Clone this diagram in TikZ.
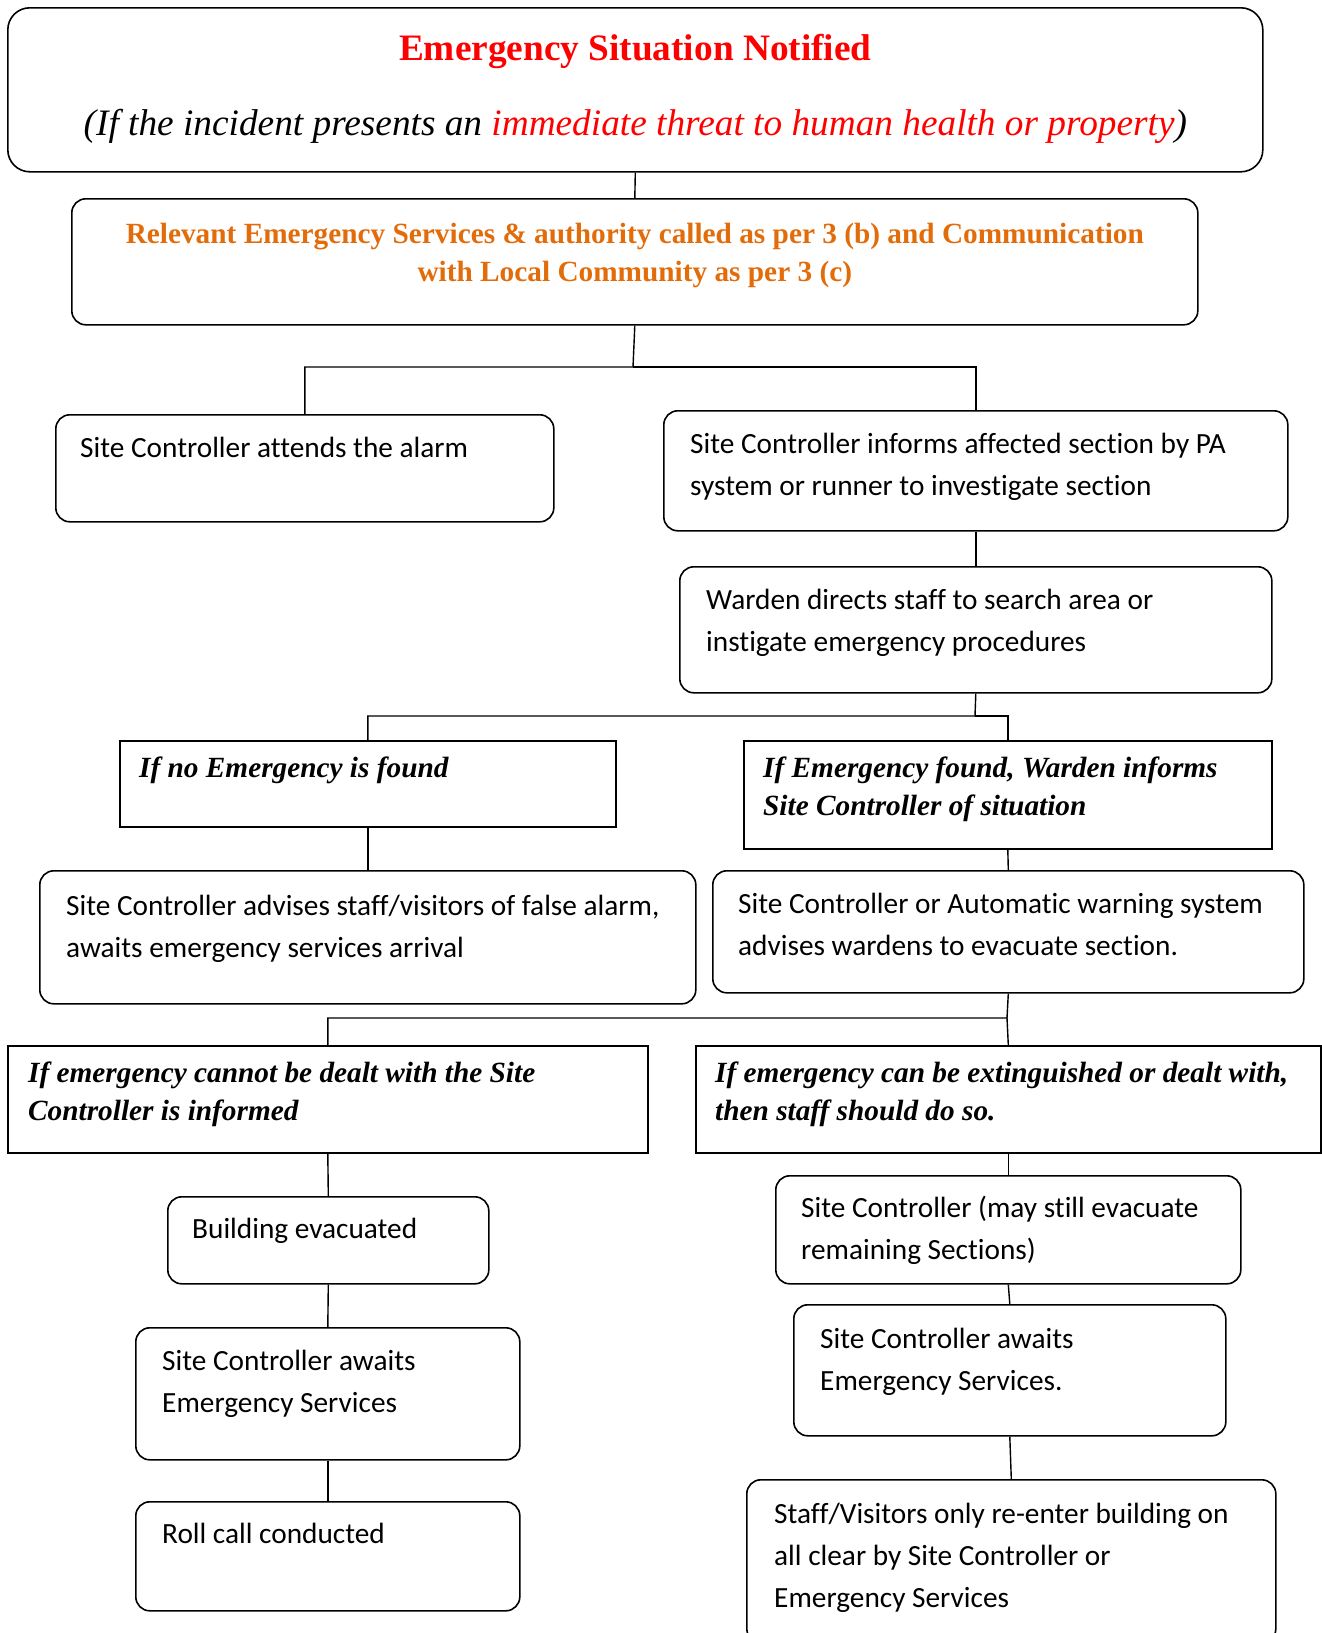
\documentclass[tikz,border=0pt]{standalone}
\usepackage{fontspec}
\setmainfont{Liberation Serif}
\newfontfamily\carlito[Ligatures=NoCommon]{Carlito}
\definecolor{alertred}{RGB}{255,0,0}
\definecolor{callorange}{RGB}{227,108,10}

\tikzset{
  stepbox/.style={draw, line width=1.6pt, rounded corners=14pt, anchor=north west, inner sep=0pt},
  casebox/.style={draw, line width=1.6pt, anchor=north west, inner sep=0pt},
  boxtext/.style={anchor=base west, inner sep=0pt, execute at begin node={\spaceskip=0pt\xspaceskip=0pt}},
  steptext/.style={boxtext, text width=620pt, font=\carlito\fontsize{29.3}{42}\selectfont},
  casetext/.style={boxtext, text width=600pt, font=\fontsize{29.3}{38.5}\selectfont\bfseries\itshape},
  link/.style={line width=1.4pt}
}

\begin{document}
\begin{tikzpicture}[x=1pt, y=-1pt]
    \useasboundingbox (0,0) rectangle (1322,1633);

    % Boxes
    \node[stepbox, rounded corners=22pt, minimum width=1255, minimum height=164] (notified) at (7,7) {};
    \node[stepbox, minimum width=1126, minimum height=126] (called) at (71,198) {};
    \node[stepbox, minimum width=498, minimum height=107] (attends) at (55,414) {};
    \node[stepbox, minimum width=624, minimum height=120] (informs) at (663,410) {};
    \node[stepbox, minimum width=592, minimum height=126] (directs) at (679,566) {};
    \node[casebox, minimum width=496, minimum height=86] (nofound) at (119,740) {};
    \node[casebox, minimum width=528, minimum height=108] (found) at (743,740) {};
    \node[stepbox, minimum width=656, minimum height=133] (falsealarm) at (39,870) {};
    \node[stepbox, minimum width=591, minimum height=122] (evacsection) at (712,870) {};
    \node[casebox, minimum width=640, minimum height=107] (cannot) at (7,1045) {};
    \node[casebox, minimum width=625, minimum height=107] (canext) at (695,1045) {};
    \node[stepbox, minimum width=321, minimum height=87] (building) at (167,1196) {};
    \node[stepbox, minimum width=384, minimum height=132] (awaitsL) at (135,1327) {};
    \node[stepbox, minimum width=384, minimum height=109] (rollcall) at (135,1501) {};
    \node[stepbox, minimum width=465, minimum height=108] (mayevac) at (775,1175) {};
    \node[stepbox, minimum width=432, minimum height=131] (awaitsR) at (793,1304) {};
    \node[stepbox, minimum width=529, minimum height=163] (reenter) at (746,1479) {};

    % Texts
    \node[font=\fontsize{37.3}{44}\selectfont\bfseries, text=alertred, anchor=base] (notified-t1) at ([shift={(0,53)}]notified.north) {Emergency Situation Notified};
    \node[font=\fontsize{37.3}{44}\selectfont\itshape, anchor=base] (notified-t2) at ([shift={(0,128)}]notified.north) {(If the incident presents an \textcolor{alertred}{immediate threat to human health or property})};
    \node[font=\fontsize{29.3}{38}\selectfont\bfseries, text=callorange, align=center, anchor=base] (called-t) at ([shift={(0,83)}]called.north) {Relevant Emergency Services \& authority called as per 3 (b) and Communication\\with Local Community as per 3 (c)};
    \node[steptext] (attends-t) at ([shift={(25,43)}]attends.north west) {Site Controller attends the alarm};
    \node[steptext] (informs-t) at ([shift={(27,43)}]informs.north west) {Site Controller informs affected section by PA\\system or runner to investigate section};
    \node[steptext] (directs-t) at ([shift={(27,43)}]directs.north west) {Warden directs staff to search area or\\instigate emergency procedures};
    \node[casetext] (nofound-t) at ([shift={(20,37)}]nofound.north west) {If no Emergency is found};
    \node[casetext] (found-t) at ([shift={(20,37)}]found.north west) {If Emergency found, Warden informs\\Site Controller of situation};
    \node[steptext] (falsealarm-t) at ([shift={(27,45)}]falsealarm.north west) {Site Controller advises staff/visitors of false alarm,\\awaits emergency services arrival};
    \node[steptext] (evacsection-t) at ([shift={(26,43)}]evacsection.north west) {Site Controller or Automatic warning system\\advises wardens to evacuate section.};
    \node[casetext] (cannot-t) at ([shift={(21,37)}]cannot.north west) {If emergency cannot be dealt with the Site\\Controller is informed};
    \node[casetext] (canext-t) at ([shift={(20,37)}]canext.north west) {If emergency can be extinguished or dealt with,\\then staff should do so.};
    \node[steptext] (building-t) at ([shift={(25,42)}]building.north west) {Building evacuated};
    \node[steptext] (awaitsL-t) at ([shift={(27,43)}]awaitsL.north west) {Site Controller awaits\\Emergency Services};
    \node[steptext] (rollcall-t) at ([shift={(27,42)}]rollcall.north west) {Roll call conducted};
    \node[steptext] (mayevac-t) at ([shift={(26,42)}]mayevac.north west) {Site Controller (may still evacuate\\remaining Sections)};
    \node[steptext] (awaitsR-t) at ([shift={(27,44)}]awaitsR.north west) {Site Controller awaits\\Emergency Services.};
    \node[steptext] (reenter-t) at ([shift={(28,44)}]reenter.north west) {Staff/Visitors only re-enter building on\\all clear by Site Controller or\\Emergency Services};

    % Connections
    \coordinate (split1) at (633,367);
    \coordinate (split2) at (975,716);
    \coordinate (split3) at (1007,1018);
    \draw[link] (notified.south) -- (called.north);
    \draw[link] (called.south) -- (split1) -| (attends.north);
    \draw[link] (split1) -| (informs.north);
    \draw[link] (informs.south) -- (directs.north);
    \draw[link] (directs.south) -- (split2) -| (nofound.north);
    \draw[link] (split2) -| (found.north);
    \draw[link] (nofound.south) -- (falsealarm.north);
    \draw[link] (found.south) -- (evacsection.north);
    \draw[link] (evacsection.south) -- (split3) -| (cannot.north);
    \draw[link] (split3) -- (canext.north);
    \draw[link] (cannot.south) -- (building.north);
    \draw[link] (building.south) -- (awaitsL.north);
    \draw[link] (awaitsL.south) -- (rollcall.north);
    \draw[link] (canext.south) -- (mayevac.north);
    \draw[link] (mayevac.south) -- (awaitsR.north);
    \draw[link] (awaitsR.south) -- (reenter.north);
\end{tikzpicture}
\end{document}
